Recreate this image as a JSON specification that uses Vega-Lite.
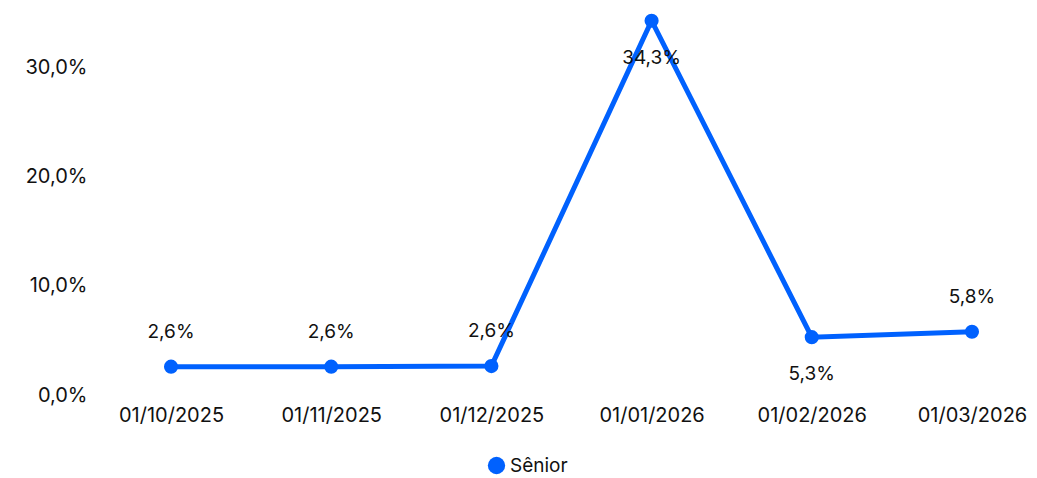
{
  "$schema": "https://vega.github.io/schema/vega-lite/v6.json",
  "width": 931,
  "height": 395,
  "autosize": {"type": "none"},
  "padding": {"left": 106, "top": 0, "right": 0, "bottom": 83},
  "config": {
    "locale": {"number": {"decimal": ",", "thousands": ".", "grouping": [3], "currency": ["R$", ""]}},
    "font": "Inter",
    "view": {"stroke": null},
    "axis": {"labelFont": "Inter", "labelFontSize": 20, "labelColor": "#111111", "grid": false, "domain": false, "ticks": false, "title": null}
  },
  "data": {
    "values": [
      {"data": "01/10/2025", "valor": 0.026, "serie": "Sênior", "pos": "acima"},
      {"data": "01/11/2025", "valor": 0.026, "serie": "Sênior", "pos": "acima"},
      {"data": "01/12/2025", "valor": 0.0265, "serie": "Sênior", "pos": "acima"},
      {"data": "01/01/2026", "valor": 0.343, "serie": "Sênior", "pos": "abaixo"},
      {"data": "01/02/2026", "valor": 0.053, "serie": "Sênior", "pos": "abaixo"},
      {"data": "01/03/2026", "valor": 0.058, "serie": "Sênior", "pos": "acima"}
    ]
  },
  "encoding": {
    "x": {"field": "data", "type": "ordinal", "sort": null, "scale": {"type": "point", "padding": 0.406}, "axis": {"labelAngle": 0, "labelPadding": 10}},
    "y": {"field": "valor", "type": "quantitative", "scale": {"domain": [0, 0.362], "nice": false}, "axis": {"values": [0, 0.1, 0.2, 0.3], "format": ".1%", "labelPadding": 19}}
  },
  "layer": [
    {
      "mark": {"type": "line", "strokeWidth": 5},
      "encoding": {
        "color": {"field": "serie", "type": "nominal", "scale": {"domain": ["Sênior"], "range": ["#0061FE"]},
          "legend": {"orient": "none", "legendX": 381, "legendY": 456, "direction": "horizontal", "title": null, "symbolType": "circle", "symbolSize": 300, "symbolStrokeWidth": 0, "symbolOpacity": 1, "labelFontSize": 19, "labelFont": "Inter", "labelColor": "#111111", "labelOffset": 4}}
      }
    },
    {
      "mark": {"type": "point", "filled": true, "size": 200, "opacity": 1},
      "encoding": {"color": {"field": "serie", "type": "nominal"}}
    },
    {
      "transform": [{"filter": "datum.pos == 'acima'"}],
      "mark": {"type": "text", "fontSize": 19, "dy": -35, "baseline": "middle", "color": "#111111"},
      "encoding": {"text": {"field": "valor", "type": "quantitative", "format": ".1%"}}
    },
    {
      "transform": [{"filter": "datum.pos == 'abaixo'"}],
      "mark": {"type": "text", "fontSize": 19, "dy": 37, "baseline": "middle", "color": "#111111"},
      "encoding": {"text": {"field": "valor", "type": "quantitative", "format": ".1%"}}
    }
  ]
}
